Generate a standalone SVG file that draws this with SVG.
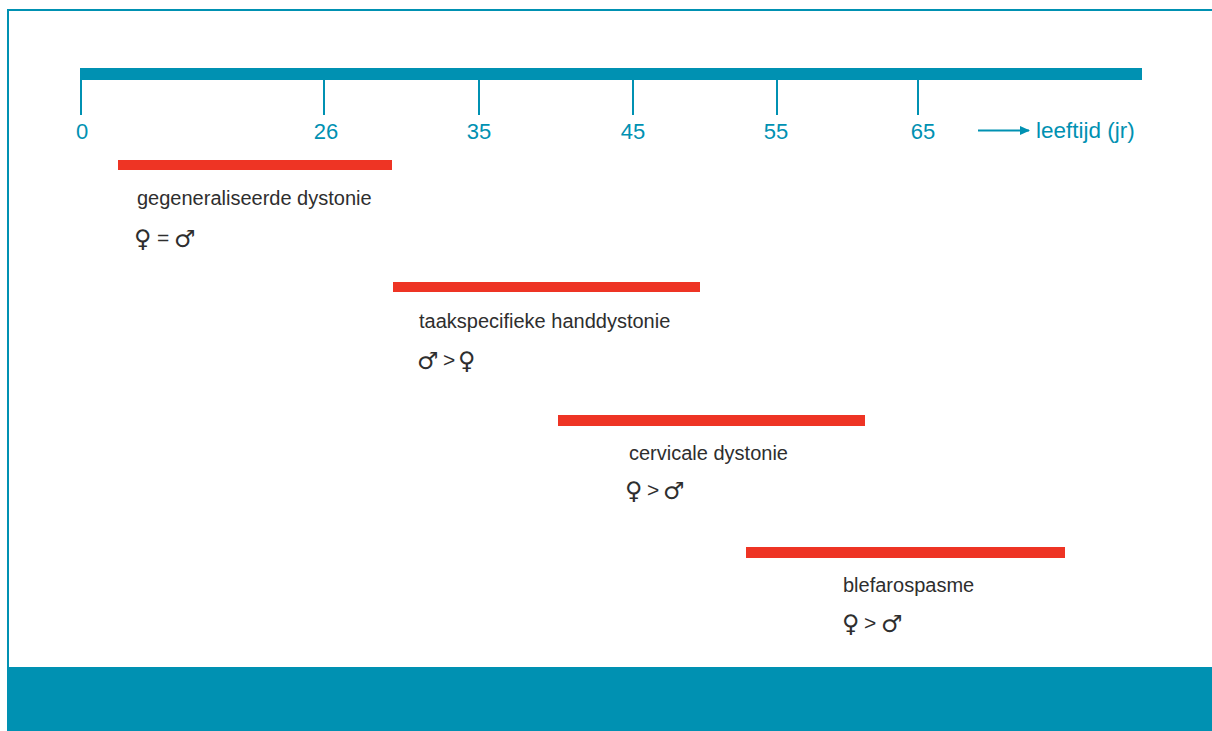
<svg xmlns="http://www.w3.org/2000/svg" width="1212" height="731" viewBox="0 0 1212 731">
<style>
.teal{fill:#0091b2}
.tick{stroke:#0091b2;stroke-width:2}
.num{font-family:"Liberation Sans",Arial,sans-serif;font-size:22px;fill:#0091b2;text-anchor:middle}
.axl{font-family:"Liberation Sans",Arial,sans-serif;font-size:22.5px;fill:#0091b2}
.bar{fill:#ee3424}
.lbl{font-family:"Liberation Sans",Arial,sans-serif;font-size:20px;fill:#2e2e2e}
.sym{font-family:"DejaVu Sans","Noto Sans",sans-serif;font-size:24px;fill:#2e2e2e}
.op{font-family:"Liberation Sans",Arial,sans-serif;font-size:21px;fill:#2e2e2e}
</style>
<defs>
<marker id="ah" markerWidth="10" markerHeight="10" refX="9" refY="5" orient="auto" markerUnits="userSpaceOnUse">
<path d="M0,0.5 L10,5 L0,9.5 Z" fill="#0091b2"/>
</marker>
</defs>
<rect width="1212" height="731" fill="#ffffff"/>
<g id="frame">
<line x1="7" y1="10" x2="1212" y2="10" stroke="#0091b2" stroke-width="2"/>
<line x1="8" y1="9" x2="8" y2="667" stroke="#0091b2" stroke-width="2"/>
<rect x="7" y="667" width="1205" height="64" class="teal"/>
</g>
<g id="axis">
<rect x="80" y="68" width="1062" height="12" class="teal"/>
<line x1="81" y1="80" x2="81" y2="115" class="tick"/>
<line x1="324" y1="80" x2="324" y2="115" class="tick"/>
<line x1="479" y1="80" x2="479" y2="115" class="tick"/>
<line x1="633" y1="80" x2="633" y2="115" class="tick"/>
<line x1="777" y1="80" x2="777" y2="115" class="tick"/>
<line x1="918" y1="80" x2="918" y2="115" class="tick"/>
<text x="82" y="139" class="num">0</text>
<text x="326" y="139" class="num">26</text>
<text x="479" y="139" class="num">35</text>
<text x="633" y="139" class="num">45</text>
<text x="776" y="139" class="num">55</text>
<text x="923" y="139" class="num">65</text>
<text x="1036" y="138" class="axl">leeftijd (jr)</text>
</g>
<g id="connectors">
<line x1="978" y1="130.5" x2="1029" y2="130.5" stroke="#0091b2" stroke-width="2" marker-end="url(#ah)"/>
</g>
<g id="gegeneraliseerde">
<rect x="118" y="160" width="274" height="10" class="bar"/>
<text x="137" y="205" class="lbl">gegeneraliseerde dystonie</text>
<text y="247" class="sym"><tspan x="134">♀</tspan><tspan x="174">♂</tspan></text>
<text x="157" y="245" class="op">=</text>
</g>
<g id="taakspecifiek">
<rect x="393" y="282" width="307" height="10" class="bar"/>
<text x="419" y="328" class="lbl">taakspecifieke handdystonie</text>
<text y="369" class="sym"><tspan x="417">♂</tspan><tspan x="458">♀</tspan></text>
<text x="443" y="367" class="op">&gt;</text>
</g>
<g id="cervicaal">
<rect x="558" y="415" width="307" height="11" class="bar"/>
<text x="629" y="460" class="lbl">cervicale dystonie</text>
<text y="499" class="sym"><tspan x="625">♀</tspan><tspan x="663">♂</tspan></text>
<text x="647" y="497" class="op">&gt;</text>
</g>
<g id="blefarospasme">
<rect x="746" y="547" width="319" height="11" class="bar"/>
<text x="843" y="592" class="lbl">blefarospasme</text>
<text y="632" class="sym"><tspan x="842">♀</tspan><tspan x="881">♂</tspan></text>
<text x="864" y="630" class="op">&gt;</text>
</g>
</svg>
